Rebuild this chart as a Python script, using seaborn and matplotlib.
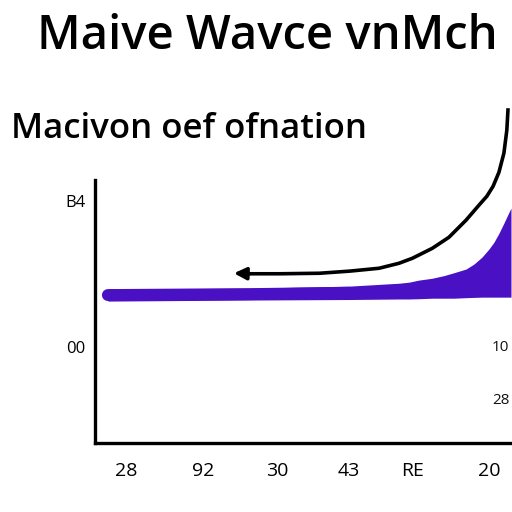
import matplotlib
matplotlib.use("Agg")
import matplotlib.pyplot as plt
import seaborn as sns
import pandas as pd

sns.set_theme(style="white")
plt.rcParams['font.family'] = ['Open Sans', 'DejaVu Sans']
plt.rcParams['text.color'] = 'black'
plt.rcParams['xtick.color'] = 'black'
plt.rcParams['ytick.color'] = 'black'

title = "Maive Wavce vnMch"
subtitle = "Macivon oef ofnation"

# band (purple) edges
band_x     = [3.1, 37.2, 61.2, 73.1, 75.5, 77.9, 81.1, 83.9, 86.3, 89.2, 91.1, 93.0, 94.7, 95.9, 97.1, 98.3, 99.3, 100.0]
band_upper = [58.6, 58.9, 59.7, 60.8, 61.2, 62.0, 62.7, 63.7, 64.8, 66.2, 68.1, 70.7, 73.8, 76.4, 79.8, 83.7, 87.1, 89.4]
band_lower = [54.0, 54.4, 54.6, 54.8, 54.8, 54.9, 55.1, 55.1, 55.1, 55.3, 55.4, 55.5, 55.5, 55.5, 55.5, 55.5, 55.5, 55.5]

# black curved arrow
arrow_x = [99.3, 99.0, 98.3, 97.1, 95.7, 94.2, 92.3, 89.2, 85.1, 81.1, 76.3, 73.1, 68.3, 61.2, 54.0, 44.4, 37.2]
arrow_y = [127.4, 119.0, 110.3, 103.0, 97.7, 93.9, 90.5, 84.8, 78.3, 74.1, 70.3, 68.4, 66.5, 65.4, 64.6, 64.4, 64.4]

xtick_pos = [7.4, 25.9, 43.9, 60.9, 76.3, 94.7]
xtick_labels = ["28", "92", "30", "43", "RE", "20"]
ytick_pos = [36.5, 92.0]
ytick_labels = ["00", "B4"]
right_labels = ["10", "28"]
right_label_y = [36.5, 16.3]

purple = "#4A10C4"

fig = plt.figure(figsize=(5.12, 5.12), dpi=100)
ax = fig.add_axes([0.1855, 0.1348, 0.8125, 0.5132])

ax.fill_between(band_x, band_lower, band_upper, color=purple, lw=0)
mid = [(a + b) / 2 for a, b in zip(band_lower, band_upper)]
left_df = pd.DataFrame({"x": band_x[:3], "y": mid[:3]})
sns.lineplot(data=left_df, x="x", y="y", ax=ax, color=purple, lw=8.6,
             solid_capstyle="round", legend=False)

arr_df = pd.DataFrame({"x": arrow_x, "y": arrow_y})
sns.lineplot(data=arr_df, x="x", y="y", ax=ax, sort=False, color="black", lw=2.6,
             legend=False, clip_on=False, solid_capstyle="butt")
ax.annotate("", xy=(33.4, 64.6), xytext=(arrow_x[-1], arrow_y[-1]),
            arrowprops=dict(arrowstyle="-|>", color="black", lw=2.6, mutation_scale=18,
                            shrinkA=0, shrinkB=0),
            annotation_clip=False)

ax.set_xlim(0, 100)
ax.set_ylim(0, 100)
ax.set_xticks(xtick_pos)
ax.set_xticklabels(xtick_labels, fontsize=14)
ax.set_yticks(ytick_pos)
ax.set_yticklabels(ytick_labels, fontsize=12)
ax.tick_params(axis="x", length=0, pad=14)
ax.tick_params(axis="y", length=0, pad=7)
ax.set_xlabel("")
ax.set_ylabel("")
for s in ["top", "right"]:
    ax.spines[s].set_visible(False)
for s in ["left", "bottom"]:
    ax.spines[s].set_color("black")
    ax.spines[s].set_linewidth(2.4)
ax.grid(False)

for lab, yy in zip(right_labels, right_label_y):
    ax.text(97.5, yy, lab, fontsize=11, ha="center", va="center", color="#111111")

fig.text(0.522, 0.928, title, fontsize=34, fontweight="semibold", ha="center", va="center")
fig.text(0.022, 0.748, subtitle, fontsize=25, fontweight="semibold", ha="left", va="center")

fig.savefig("out.png", dpi=100, facecolor="white")
